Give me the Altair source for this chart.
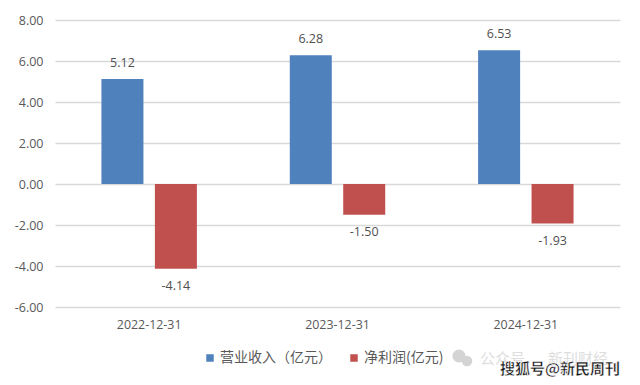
import altair as alt
import pandas as pd

dates = ["2022-12-31", "2023-12-31", "2024-12-31"]
series_names = ["营业收入（亿元）", "净利润(亿元)"]
revenue = [5.12, 6.28, 6.53]
profit = [-4.14, -1.50, -1.93]
colors = ["#4f81bd", "#c0504d"]
y_ticks = [8, 6, 4, 2, 0, -2, -4, -6]

rows = []
for d, v in zip(dates, revenue):
    rows.append({"date": d, "series": series_names[0], "value": v, "label": f"{v:.2f}"})
for d, v in zip(dates, profit):
    rows.append({"date": d, "series": series_names[1], "value": v, "label": f"{v:.2f}"})
df = pd.DataFrame(rows)

FONT = "Open Sans"
CJK = "Noto Sans CJK SC"
GREY = "#595959"

x = alt.X("date:N", title=None, sort=dates,
          scale=alt.Scale(paddingInner=0, paddingOuter=0),
          axis=alt.Axis(labelAngle=0, domain=False, ticks=False, grid=False,
                        labelFont=FONT, labelFontSize=12.4, labelColor=GREY, labelPadding=11))
xo = alt.XOffset("series:N", sort=series_names,
                 scale=alt.Scale(domain=series_names, paddingInner=0.21, paddingOuter=0.867))
y = alt.Y("value:Q", title=None,
          scale=alt.Scale(domain=[-6, 8], nice=False, zero=False),
          axis=alt.Axis(values=y_ticks, domain=False, ticks=False,
                        labelExpr="replace(format(datum.value, '.2f'), '−', '-')",
                        grid=True, gridColor="#d9d9d9", gridWidth=1.5,
                        labelFont=FONT, labelFontSize=12.5, labelColor=GREY, labelPadding=12))

bars = alt.Chart(df).mark_bar(size=42, strokeWidth=0).encode(
    x=x, xOffset=xo, y=y,
    y2=alt.Y2(datum=0),
    color=alt.Color("series:N", sort=series_names,
                    scale=alt.Scale(domain=series_names, range=colors),
                    legend=alt.Legend(title=None, orient="none", direction="horizontal",
                                      legendX=148, legendY=331, symbolType="square",
                                      symbolSize=56, symbolStrokeWidth=0,
                                      labelFont=CJK, labelFontSize=14, labelColor=GREY,
                                      labelOffset=3, columnPadding=15)),
)

def labels(cond, dy):
    return alt.Chart(df).transform_filter(cond).mark_text(
        font=FONT, fontSize=12.5, color="#505050", dy=dy
    ).encode(x=x, xOffset=xo, y=y, text="label:N")

pos_labels = labels("datum.value > 0", -16)
neg_labels = labels("datum.value < 0", 17)

def note(px, py, text, **kw):
    return alt.Chart(df.head(1)).mark_text(align="left", baseline="middle", **kw).encode(
        x=alt.value(px), y=alt.value(py), text=alt.value(text))

def dot(px, py, size):
    return alt.Chart(df.head(1)).mark_point(filled=True, color="#d4d4d4", opacity=1, size=size).encode(
        x=alt.value(px), y=alt.value(py))

wm1 = dot(404, 336, 170)
wm2 = dot(412, 341, 110)
wm3 = note(425, 339, "公众号", font=CJK, fontSize=15, color="#dedede")
wm4 = note(493, 339, "新刊财经", font=CJK, fontSize=15, color="#dedede")
wm5 = note(445, 349, "搜狐号@新民周刊", font=CJK, fontSize=15, fontWeight="bold", color="#111111",
           stroke="#ffffff", strokeWidth=0.4)

chart = alt.layer(bars, pos_labels, neg_labels, wm1, wm2, wm3, wm4, wm5).properties(
    width=565, height=287,
    autosize=alt.AutoSizeParams(type="none"),
    padding={"left": 47, "top": 12, "right": 12, "bottom": 76},
).configure_view(stroke=None)

chart.save("out.html", embed_options={"renderer": "svg", "actions": False})
